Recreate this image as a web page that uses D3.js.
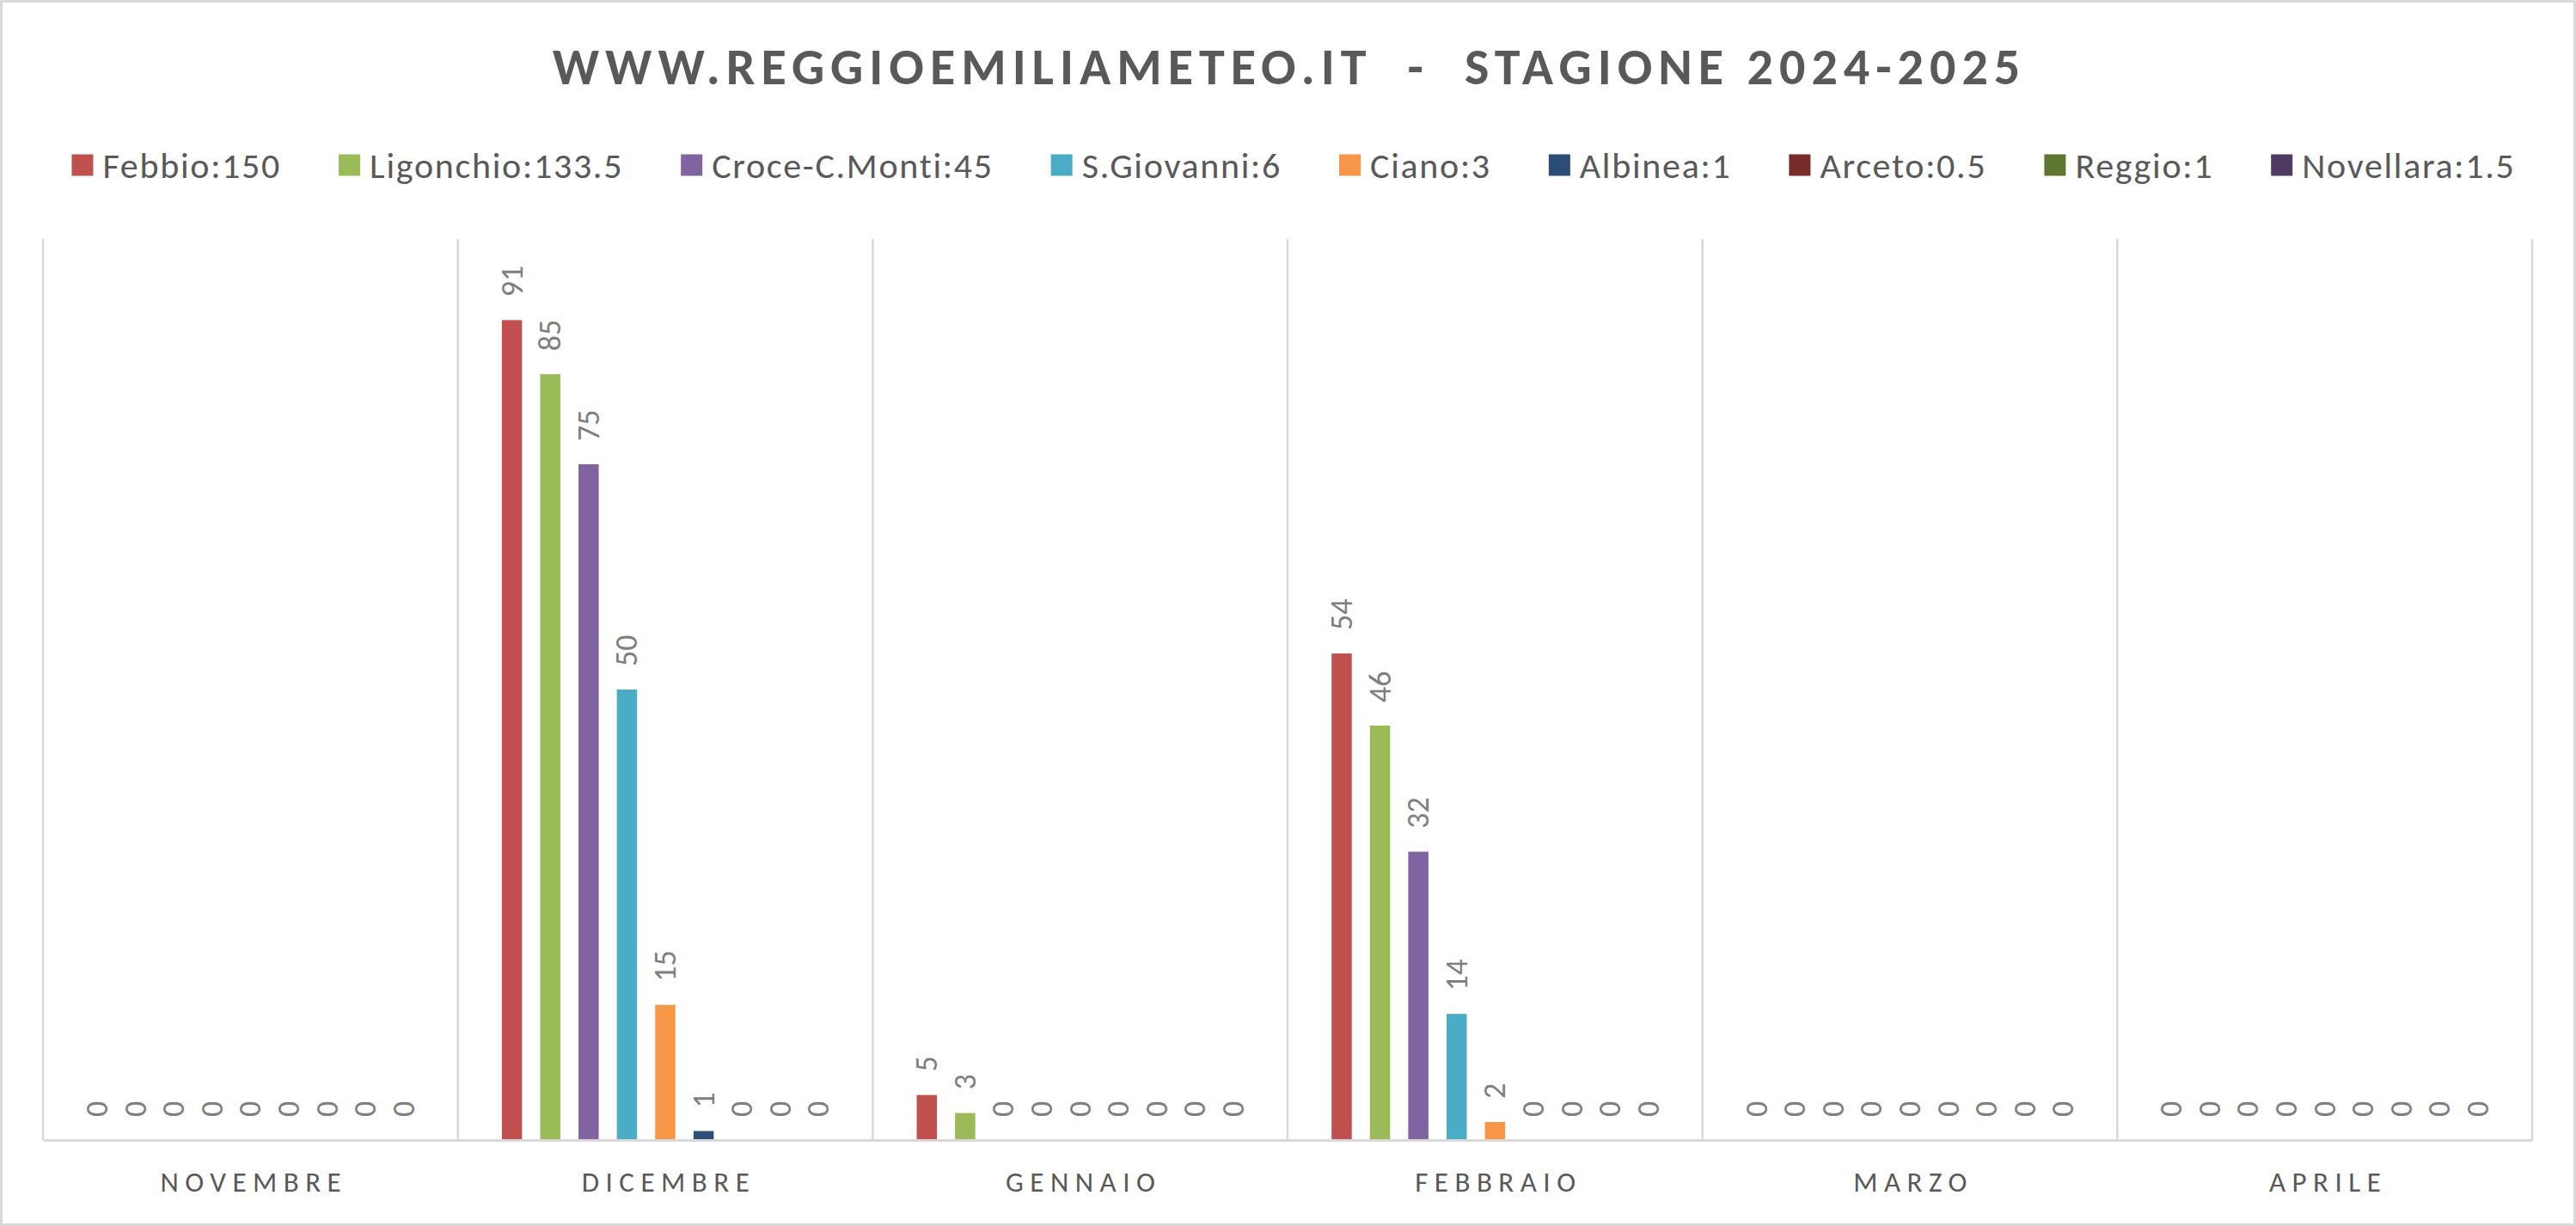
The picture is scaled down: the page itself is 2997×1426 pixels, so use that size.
<!DOCTYPE html>
<html>
<head>
<meta charset="utf-8">
<script src="https://cdn.jsdelivr.net/npm/d3@7"></script>
<style>
  html, body { margin: 0; padding: 0; background: #fff; }
  svg { display: block; }
  text { font-family: Carlito, Calibri, Lato, "Open Sans", sans-serif; }
</style>
</head>
<body>
<svg id="chart" width="2997" height="1426"></svg>
<script>
// ---- data ----
const months = ["NOVEMBRE", "DICEMBRE", "GENNAIO", "FEBBRAIO", "MARZO", "APRILE"];
const seriesNames = ["Febbio", "Ligonchio", "Croce-C.Monti", "S.Giovanni", "Ciano", "Albinea", "Arceto", "Reggio", "Novellara"];
const legendTotals = ["150", "133.5", "45", "6", "3", "1", "0.5", "1", "1.5"];
const febbio     = [0, 91, 5, 54, 0, 0];
const ligonchio  = [0, 85, 3, 46, 0, 0];
const croce      = [0, 75, 0, 32, 0, 0];
const sgiovanni  = [0, 50, 0, 14, 0, 0];
const ciano      = [0, 15, 0, 2, 0, 0];
const albinea    = [0, 1, 0, 0, 0, 0];
const arceto     = [0, 0, 0, 0, 0, 0];
const reggio     = [0, 0, 0, 0, 0, 0];
const novellara  = [0, 0, 0, 0, 0, 0];
const seriesValues = [febbio, ligonchio, croce, sgiovanni, ciano, albinea, arceto, reggio, novellara];
const colors = ["#C0504D", "#9BBB59", "#8064A2", "#4BACC6", "#F79646", "#2C4D75", "#772C2A", "#5F7530", "#4D3B62"];
const titleText = "WWW.REGGIOEMILIAMETEO.IT\u00A0\u00A0-\u00A0\u00A0STAGIONE 2024-2025";

// ---- layout ----
const W = 2997, H = 1426;
const plot = { left: 50, right: 2946, top: 278, bottom: 1326 };
const svg = d3.select("#chart");

// outer border
svg.append("rect").attr("x", 1.5).attr("y", 1.5).attr("width", W - 3).attr("height", H - 3)
  .attr("fill", "#fff").attr("stroke", "#d9d9d9").attr("stroke-width", 3);

const x = d3.scaleBand().domain(months).range([plot.left, plot.right]).padding(0);
const xi = d3.scaleBand().domain(seriesNames).range([0, x.bandwidth()])
  .paddingInner(0.473).paddingOuter(1.148);
const y = d3.scaleLinear().domain([0, 100]).range([plot.bottom, plot.top]);

// vertical gridlines
const gridX = months.map(m => x(m)).concat([x.range()[1]]);
svg.append("g").selectAll("line").data(gridX).join("line")
  .attr("x1", d => d).attr("x2", d => d)
  .attr("y1", plot.top).attr("y2", plot.bottom)
  .attr("stroke", "#d9d9d9").attr("stroke-width", 2.5);

// bars
const rows = [];
months.forEach((m, mi) => seriesNames.forEach((s, si) => rows.push({ m, s, si, v: seriesValues[si][mi] })));

const gBars = svg.append("g");
gBars.selectAll("rect").data(rows.filter(d => d.v > 0)).join("rect")
  .attr("x", d => x(d.m) + xi(d.s))
  .attr("width", xi.bandwidth())
  .attr("y", d => y(d.v))
  .attr("height", d => y(0) - y(d.v))
  .attr("fill", d => colors[d.si]);

// data labels (rotated)
svg.append("g").selectAll("text").data(rows).join("text")
  .attr("transform", d => `translate(${x(d.m) + xi(d.s) + xi.bandwidth() / 2},${y(d.v) - 27}) rotate(-90)`)
  .attr("text-anchor", "start")
  .attr("dominant-baseline", "central")
  .attr("font-size", 36)
  .attr("fill", "#7f7f7f")
  .text(d => d3.format("d")(d.v));

// x axis
const axis = svg.append("g").attr("transform", `translate(0,${plot.bottom})`)
  .call(d3.axisBottom(x).tickSizeInner(0).tickSizeOuter(0).tickPadding(0));
axis.select(".domain").attr("stroke", "#d9d9d9").attr("stroke-width", 3);
axis.selectAll(".tick text")
  .attr("y", 48).attr("dy", "0.35em")
  .attr("font-size", 33)
  .attr("font-family", "Carlito, Calibri, Lato, sans-serif")
  .attr("fill", "#595959")
  .attr("letter-spacing", 7.5)
  .attr("dx", 4);

// title
svg.append("text").attr("x", 1500).attr("y", 77)
  .attr("text-anchor", "middle").attr("dominant-baseline", "central")
  .attr("font-size", 60).attr("font-weight", "bold")
  .attr("letter-spacing", 7)
  .attr("fill", "#595959")
  .text(titleText);

// legend
const legendY = 192;
const legendFont = 42;
const sw = 25, swGap = 11, itemGap = 67;
const gLeg = svg.append("g");
const items = seriesNames.map((s, i) => {
  const g = gLeg.append("g");
  g.append("rect").attr("width", sw).attr("height", sw).attr("y", legendY - sw / 2).attr("fill", colors[i]);
  const t = g.append("text").attr("x", sw + swGap).attr("y", legendY)
    .attr("dominant-baseline", "central")
    .attr("font-size", legendFont).attr("fill", "#595959")
    .attr("letter-spacing", 1.7)
    .text(`${s}:${legendTotals[i]}`);
  const w = sw + swGap + t.node().getComputedTextLength();
  return { g, w };
});
const totalW = d3.sum(items, d => d.w) + itemGap * (items.length - 1);
let cx = (plot.left + plot.right) / 2 + 7 - totalW / 2;
items.forEach(it => { it.g.attr("transform", `translate(${cx},0)`); cx += it.w + itemGap; });
</script>
</body>
</html>
